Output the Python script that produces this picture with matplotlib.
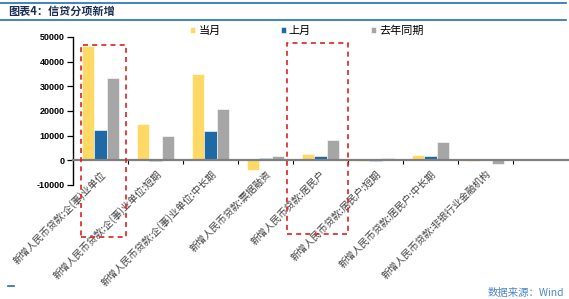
import matplotlib
matplotlib.use("Agg")
import matplotlib.pyplot as plt
from matplotlib.patches import Rectangle
from matplotlib.lines import Line2D
import numpy as np

plt.rcParams['font.family'] = ['Noto Sans CJK SC', 'DejaVu Sans']

categories = ["新增人民币贷款:企(事)业单位", "新增人民币贷款:企(事)业单位:短期",
              "新增人民币贷款:企(事)业单位:中长期", "新增人民币贷款:票据融资",
              "新增人民币贷款:居民户", "新增人民币贷款:居民户:短期",
              "新增人民币贷款:居民户:中长期", "新增人民币贷款:非银行业金融机构"]
series_names = ["当月", "上月", "去年同期"]
cur_month = [46500, 14800, 34800, -4000, 2600, -200, 2300, -400]
last_month = [12500, -300, 11900, 1100, 1800, -300, 1900, 0]
last_year = [33300, 9900, 20800, 1800, 8400, 900, 7400, -1300]
yticks = [-10000, 0, 10000, 20000, 30000, 40000, 50000]

colors = ["#FFD966", "#1F6AA5", "#A6A6A6"]

W, H = 569, 299
fig = plt.figure(figsize=(W / 100, H / 100), dpi=100)
ax = fig.add_axes([73 / W, 1 - 185 / H, (568 - 73) / W, (185 - 37) / H])

x = np.arange(len(categories))
bw = 0.224
for i, (vals, c, name) in enumerate(zip([cur_month, last_month, last_year], colors, series_names)):
    ax.bar(x + (i - 1) * bw, vals, width=bw, color=c, edgecolor="white", linewidth=0.4, label=name, zorder=2)

for s in ["top", "right"]:
    ax.spines[s].set_visible(False)
ax.spines["bottom"].set_position(("data", 0))
ax.spines["bottom"].set_color("#7F7F7F")
ax.spines["bottom"].set_linewidth(1.6)
ax.spines["bottom"].set_zorder(3)
ax.spines["left"].set_linewidth(1.0)

ax.set_xlim(-0.5, len(categories) + 0.5)
ax.set_ylim(-10000, 50000)
ax.set_yticks(yticks)
ax.set_yticklabels([str(v) for v in yticks], fontfamily="Liberation Sans", fontweight="bold", fontsize=6.5)
ax.tick_params(axis="y", length=4, width=0.9, pad=2)

ax.set_xticks(x)
ax.set_xticklabels(categories, rotation=45, ha="right", rotation_mode="anchor", fontsize=7, color="#404040")
ax.tick_params(axis="x", which="major", length=0, pad=6)
ax.set_xticks(x + 0.5, minor=True)
ax.tick_params(axis="x", which="minor", length=3, width=0.8, color="black", direction="out")

leg = ax.legend(loc="center left", bbox_to_anchor=(190 / W, 1 - 31 / H), bbox_transform=fig.transFigure,
                ncol=3, frameon=False, fontsize=8, handlelength=0.45, handleheight=0.45,
                handletextpad=0.3, columnspacing=5.4, borderpad=0, borderaxespad=0)

# Title and rules
fig.add_artist(Line2D([0, 566 / W], [1 - 3 / H, 1 - 3 / H], color="#1F6FB8", lw=1.2))
fig.add_artist(Line2D([0, 566 / W], [1 - 20 / H, 1 - 20 / H], color="#1F6FB8", lw=1.2))
fig.text(8 / W, 1 - 11.5 / H, "图表4：信贷分项新增", fontsize=8, fontweight="bold", color="#1A2F55", va="center", ha="left")
fig.add_artist(Line2D([8 / W, 14 / W], [1 - 286 / H, 1 - 286 / H], color="#1F6FB8", lw=1.2))
fig.text(564 / W, 1 - 293 / H, "数据来源：Wind", fontsize=7.5, color="#4A86C8", va="center", ha="right")

# Red dashed highlight boxes
for (x0, y0, x1, y1) in [(81, 45, 126, 237), (287, 43, 348, 234)]:
    fig.add_artist(Rectangle((x0 / W, 1 - y1 / H), (x1 - x0) / W, (y1 - y0) / H, transform=fig.transFigure,
                             fill=False, edgecolor="#E02020", lw=1.2, ls=(0, (3, 2.5)), zorder=10))

fig.savefig("out.png", dpi=100)
